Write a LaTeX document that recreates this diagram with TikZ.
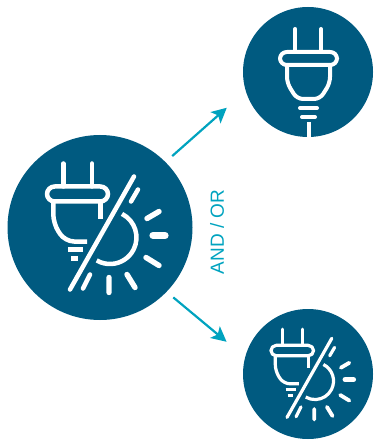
\documentclass[tikz,border=0pt]{standalone}
\usepackage{fontspec}
\setmainfont{Liberation Sans}
\usetikzlibrary{arrows.meta}
\usepackage{xcolor}
\definecolor{plugblue}{RGB}{0,90,128}
\definecolor{arrowteal}{RGB}{0,163,191}
\tikzset{
    disc/.style={
        circle,fill=plugblue,inner sep=0pt,minimum size=#1
    },
    iconline/.style={
        draw=white,line width=#1,line cap=round,line join=round
    },
    arrow/.style={
        -{Stealth[length=15pt,width=15pt,inset=3.5pt]},line width=2.2pt,draw=arrowteal
    },
    plugwhole/.pic={
        \draw[iconline=#1] (-12.7,-43)--(-12.7,-20) (13,-43)--(13,-20);
        \draw[iconline=#1,rounded corners=1.7*#1] (-28,-20) rectangle (29,-7);
        \draw[iconline=#1,rounded corners=1.5*#1] (-21,-7)--(-21,11)--(-11,27)--(12,27)--(22,11)--(22,-7);
        \draw[iconline=#1] (-8,36)--(9,36) (-6,45)--(7,45);
        \draw[iconline=#1,line cap=butt] (0.5,50)--(0.5,65);
    },
    plughalf/.pic={
        \draw[iconline=#1] (-36.7,-64)--(-36.7,-41) (-8,-64)--(-8,-41);
        \draw[iconline=#1,rounded corners=1.7*#1] (-53,-41) rectangle (8,-26);
        \draw[iconline=#1,line cap=butt,rounded corners=2*#1] (-46.7,-26)--(-46.7,-4)--(-35,14)--(-13,14);
        \draw[iconline=#1,line cap=butt] (0.7,-26)--(0.7,-9);
        \draw[iconline=#1,line cap=butt] (-32,22)--(-17,22) (-29,31)--(-22,31);
        \draw[iconline=#1] (-30,62)--(34,-51);
        \draw[iconline=#1] (-17,61)--(-10,47) (31,-26)--(38,-38);
        \draw[iconline=#1,line cap=butt] (22,-13.6) arc[start angle=-63,end angle=120,radius=26.5];
        \draw[iconline=1.2*#1] (47,-9)--(59,-16) (46,30)--(59,38) (27,47)--(35,60) (9,50)--(9,65);
        \draw[iconline=1.6*#1] (53,8)--(65,8);
    }
}
\begin{document}
\begin{tikzpicture}[x=1pt,y=-1pt]
\useasboundingbox (0,0) rectangle (374,443);

\node[disc=185pt](big) at (100,227.5) {};
\node[disc=130pt](top) at (308,72) {};
\node[disc=130pt](bottom) at (308,374) {};

\pic at (big) {plughalf=4.5pt};
\pic[scale=0.7] at (bottom) {plughalf=3.2pt};
\pic at (top) {plugwhole=4pt};

\draw[arrow,shorten <=8.9pt,shorten >=25.2pt](big.45)--(top.197.4);
\draw[arrow,shorten <=8.6pt,shorten >=24pt](big.-44.4)--(bottom.165);

\node[rotate=90,text=arrowteal,font=\fontsize{19}{21}\selectfont,inner sep=0pt](andor) at (217,232) {AND / OR};

\end{tikzpicture}
\end{document}
